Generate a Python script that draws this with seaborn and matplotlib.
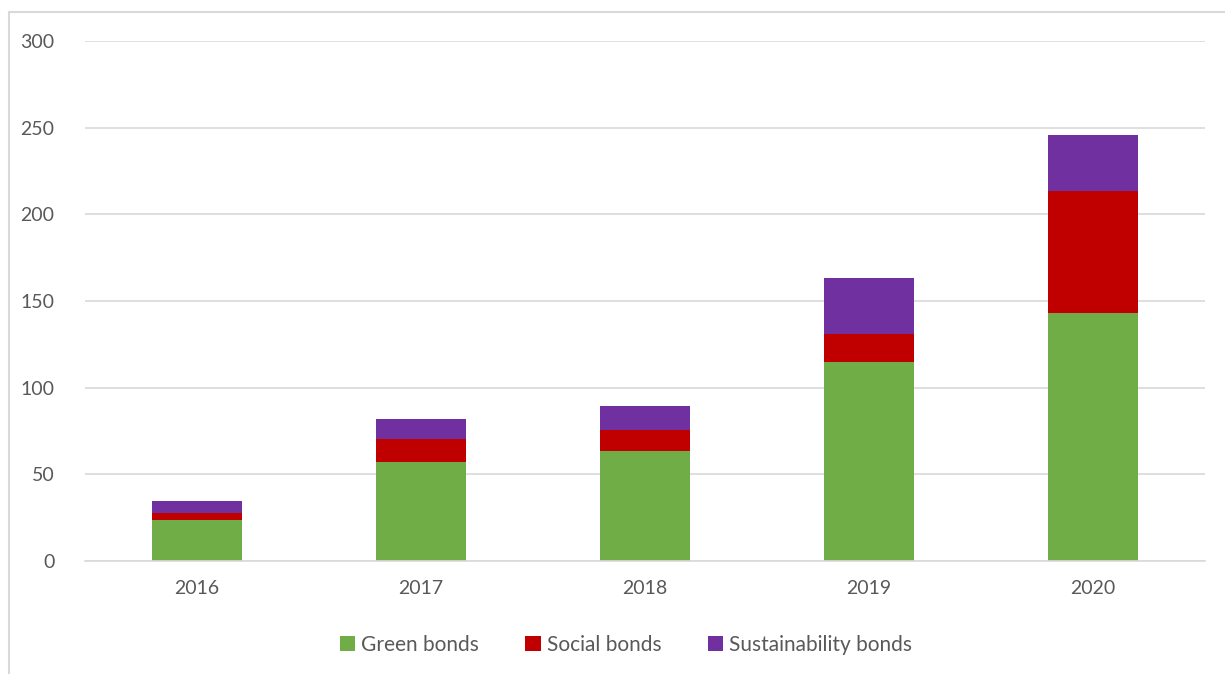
import numpy as np
import pandas as pd
import matplotlib
matplotlib.use("Agg")
import matplotlib.pyplot as plt
from matplotlib.patches import Patch
from matplotlib.lines import Line2D
import seaborn as sns

years = ["2016", "2017", "2018", "2019", "2020"]
green = [23.8, 57.1, 63.5, 115.0, 143.3]
social = [3.7, 13.5, 11.9, 16.0, 70.0]
sustainability = [7.3, 11.3, 14.0, 32.1, 32.3]
series_names = ["Green bonds", "Social bonds", "Sustainability bonds"]
colors = ["#70AD47", "#C00000", "#7030A0"]

sns.set_theme(style="white")
plt.rcParams["font.family"] = ["Lato", "DejaVu Sans"]

fig = plt.figure(figsize=(12.25, 6.74), dpi=100)
ax = fig.add_axes([85/1225, 1-561/674, 1120/1225, 520/674])

g = np.array(green); s = np.array(social); u = np.array(sustainability)
layers = [
    (g + s + u, colors[2]),
    (g + s, colors[1]),
    (g, colors[0]),
]
for vals, col in layers:
    df = pd.DataFrame({"year": years, "value": vals})
    sns.barplot(data=df, x="year", y="value", color=col, width=0.4,
                saturation=1, ax=ax, edgecolor="none", linewidth=0)

ax.set_ylim(0, 300)
ax.set_xlim(-0.5, 4.5)
ax.set_yticks(range(0, 301, 50))
ax.yaxis.grid(True, color="#d9d9d9", linewidth=1.2)
ax.set_axisbelow(True)
for sp in ["top", "right", "left"]:
    ax.spines[sp].set_visible(False)
ax.spines["bottom"].set_color("#d9d9d9")
ax.spines["bottom"].set_linewidth(1.2)
ax.set_xlabel("")
ax.set_ylabel("")
ax.tick_params(axis="both", length=0, labelsize=14, colors="#595959")
ax.tick_params(axis="y", pad=22)
ax.tick_params(axis="x", pad=14)

handles = [Patch(facecolor=c, edgecolor="none") for c in colors]
fig.legend(handles, series_names, loc="center", bbox_to_anchor=(626/1225, 1-645/674),
           ncol=3, frameon=False, fontsize=15, labelcolor="#595959",
           handlelength=0.75, handleheight=0.75, handletextpad=0.3, columnspacing=2.2)

# outer chart frame (left and top edges visible)
fig.add_artist(Line2D([9/1225, 9/1225], [0, 1-12/674], color="#d9d9d9", linewidth=1.5,
                      transform=fig.transFigure))
fig.add_artist(Line2D([9/1225, 1], [1-12/674, 1-12/674], color="#d9d9d9", linewidth=1.5,
                      transform=fig.transFigure))

fig.savefig("out.png", dpi=100)
